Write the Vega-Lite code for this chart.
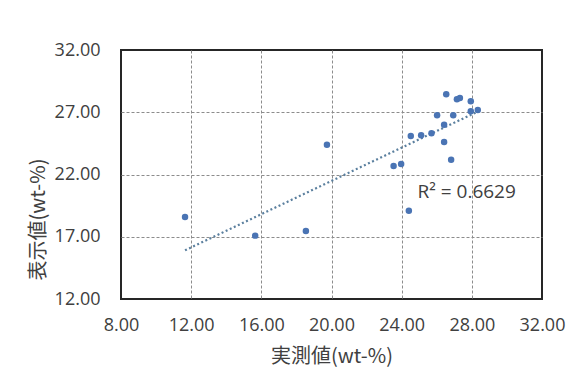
{
  "$schema": "https://vega.github.io/schema/vega-lite/v6.json",
  "autosize": "none",
  "width": 421,
  "height": 249,
  "padding": {"left": 121, "top": 50, "right": 44, "bottom": 81},
  "background": "white",
  "config": {
    "view": {"stroke": "#262626", "strokeWidth": 2},
    "axis": {
      "labelFont": "Open Sans",
      "labelFontSize": 18,
      "labelColor": "#404040",
      "labelFlush": false,
      "labelOverlap": false,
      "titleFont": "Noto Sans CJK JP",
      "titleFontSize": 20,
      "titleFontWeight": "normal",
      "titleColor": "#404040",
      "gridColor": "#8c8c8c",
      "gridDash": [3, 2],
      "gridWidth": 1,
      "domain": false,
      "ticks": false
    }
  },
  "data": {
    "values": [
      {"measured": 11.65, "displayed": 18.59},
      {"measured": 15.65, "displayed": 17.09},
      {"measured": 18.54, "displayed": 17.46},
      {"measured": 19.74, "displayed": 24.39},
      {"measured": 23.54, "displayed": 22.68},
      {"measured": 23.97, "displayed": 22.84},
      {"measured": 24.41, "displayed": 19.09},
      {"measured": 24.52, "displayed": 25.09},
      {"measured": 25.11, "displayed": 25.15},
      {"measured": 25.70, "displayed": 25.31},
      {"measured": 26.02, "displayed": 26.75},
      {"measured": 26.42, "displayed": 26.00},
      {"measured": 26.42, "displayed": 24.61},
      {"measured": 26.54, "displayed": 28.44},
      {"measured": 26.82, "displayed": 23.19},
      {"measured": 26.94, "displayed": 26.75},
      {"measured": 27.15, "displayed": 28.04},
      {"measured": 27.32, "displayed": 28.14},
      {"measured": 27.94, "displayed": 27.88},
      {"measured": 27.94, "displayed": 27.08},
      {"measured": 28.34, "displayed": 27.18}
    ]
  },
  "layer": [
    {
      "transform": [{"regression": "displayed", "on": "measured"}],
      "mark": {"type": "line", "color": "#5a7f9e", "strokeWidth": 2.2, "strokeDash": [2, 2.5]},
      "encoding": {
        "x": {"field": "measured", "type": "quantitative"},
        "y": {"field": "displayed", "type": "quantitative"}
      }
    },
    {
      "mark": {"type": "circle", "size": 42, "color": "#4a74b4", "opacity": 1},
      "encoding": {
        "x": {
          "field": "measured",
          "type": "quantitative",
          "scale": {"domain": [8, 32], "nice": false, "zero": false},
          "axis": {
            "values": [8, 12, 16, 20, 24, 28, 32],
            "format": ".2f",
            "labelPadding": 17,
            "title": "実測値(wt-%)",
            "titlePadding": 12,
            "gridOpacity": {"condition": {"test": "datum.value == 8 || datum.value == 32", "value": 0}, "value": 1}
          }
        },
        "y": {
          "field": "displayed",
          "type": "quantitative",
          "scale": {"domain": [12, 32], "nice": false, "zero": false},
          "axis": {
            "values": [12, 17, 22, 27, 32],
            "format": ".2f",
            "labelPadding": 21,
            "title": "表示値(wt-%)",
            "titlePadding": 6,
            "titleY": 169,
            "gridOpacity": {"condition": {"test": "datum.value == 12 || datum.value == 32", "value": 0}, "value": 1}
          }
        }
      }
    },
    {
      "data": {"values": [{"label": "R² = 0.6629"}]},
      "mark": {"type": "text", "font": "Open Sans", "fontSize": 19, "color": "#404040", "align": "left", "baseline": "middle"},
      "encoding": {
        "x": {"datum": 24.9},
        "y": {"datum": 20.6},
        "text": {"field": "label", "type": "nominal"}
      }
    }
  ]
}
